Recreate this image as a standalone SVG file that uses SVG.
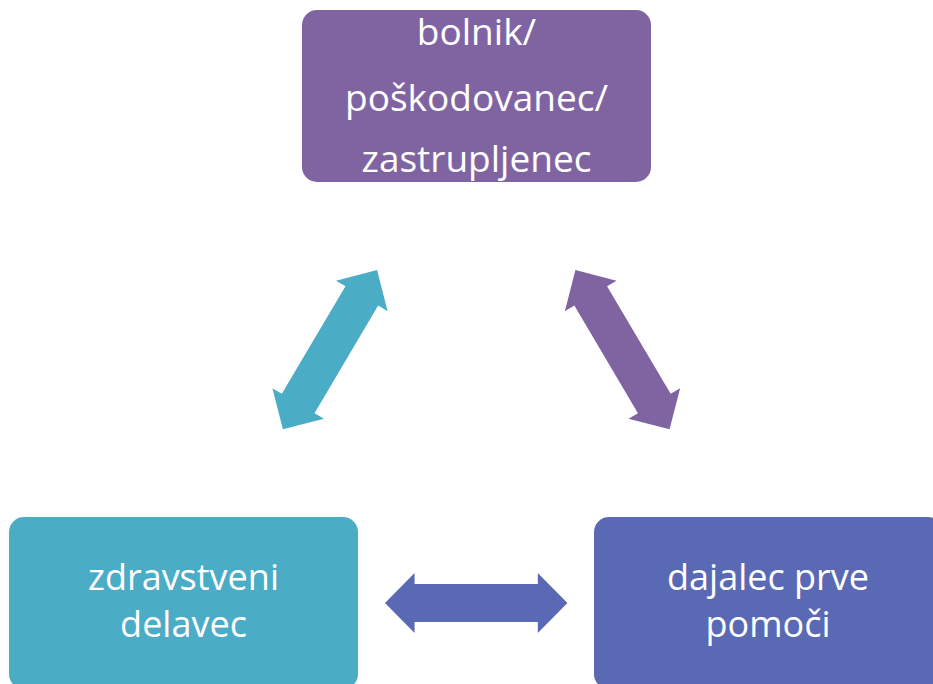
<svg xmlns="http://www.w3.org/2000/svg" xmlns:xlink="http://www.w3.org/1999/xlink" width="933" height="684" viewBox="0 0 933 684">
  <style>
    .label { font-family: "Open Sans", "Liberation Sans", sans-serif; fill: #ffffff; text-anchor: middle; }
    .top { font-size: 37px; }
    .bottom { font-size: 36px; }
  </style>
  <defs>
    <!-- double-headed block arrow, centred on the origin, pointing along x -->
    <path id="dbl-arrow" d="M -92.5 0 L -62.5 -30 L -62.5 -19 L 62.5 -19 L 62.5 -30 L 92.5 0 L 62.5 30 L 62.5 19 L -62.5 19 L -62.5 30 Z"/>
  </defs>

  <rect width="933" height="684" fill="#ffffff"/>

  <g id="connectors">
    <use xlink:href="#dbl-arrow" fill="#4BACC6" transform="translate(330,349.7) rotate(-59.4)"/>
    <use xlink:href="#dbl-arrow" fill="#8064A2" transform="translate(622.5,349.7) rotate(59.4)"/>
    <use xlink:href="#dbl-arrow" fill="#5A69B3" transform="translate(476.2,603) scale(0.986,1)"/>
  </g>

  <g id="node-bolnik">
    <rect x="302" y="10" width="349" height="172" rx="15" fill="#8064A2"/>
    <text class="label top" x="476.5" y="45">bolnik/</text>
    <text class="label top" x="476.5" y="111">poškodovanec/</text>
    <text class="label top" x="476.5" y="172">zastrupljenec</text>
  </g>

  <g id="node-zdravstveni-delavec">
    <rect x="9" y="517" width="349" height="172" rx="15" fill="#4BACC6"/>
    <text class="label bottom" x="183.5" y="590">zdravstveni</text>
    <text class="label bottom" x="183.5" y="637">delavec</text>
  </g>

  <g id="node-dajalec-prve-pomoci">
    <rect x="594" y="517" width="349" height="172" rx="15" fill="#5A69B3"/>
    <text class="label bottom" x="768" y="590">dajalec prve</text>
    <text class="label bottom" x="768" y="637">pomoči</text>
  </g>
</svg>
